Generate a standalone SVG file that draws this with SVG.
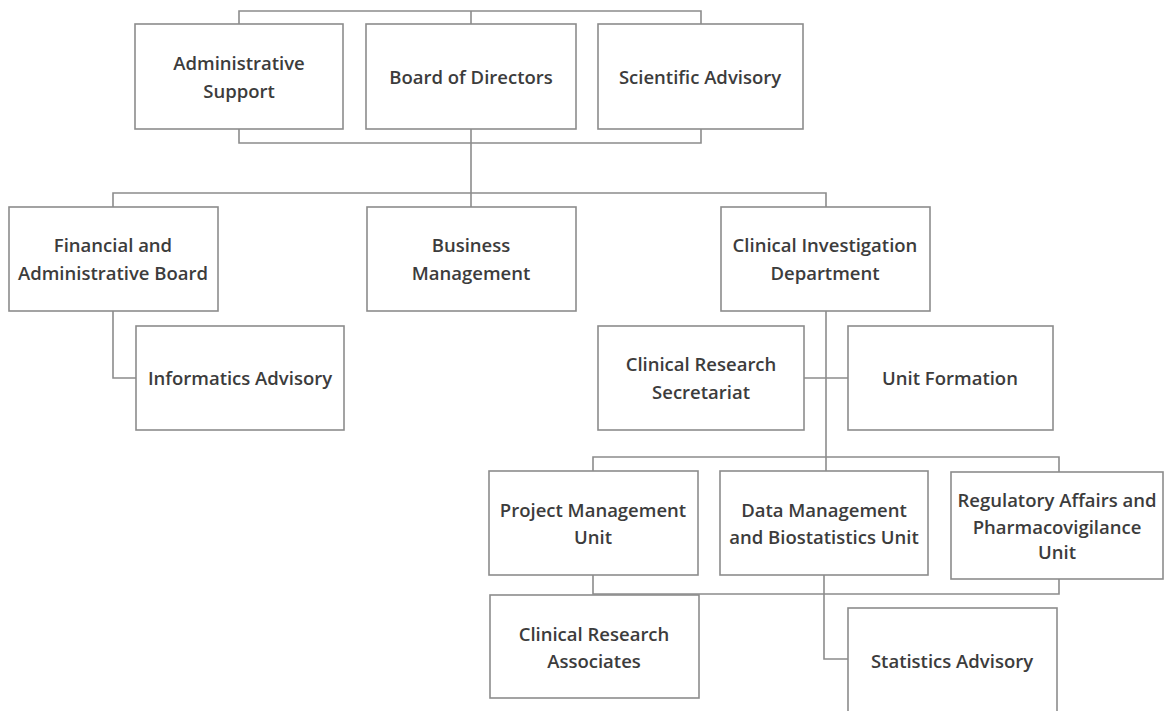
<svg xmlns="http://www.w3.org/2000/svg" width="1164" height="711" viewBox="0 0 1164 711">
<style>
.box{fill:#fff;stroke:#8c8c8c;stroke-width:1.6}
.ln{fill:none;stroke:#8c8c8c;stroke-width:1.6}
text{font-family:"Open Sans","Liberation Sans",sans-serif;font-weight:600;font-size:18.5px;fill:#3c3c3c;text-anchor:middle}
</style>
<rect width="1164" height="711" fill="#fff"/>
<g id="connectors">
<polyline class="ln" points="239,24 239,11 701,11 701,24"/>
<line class="ln" x1="471" y1="11" x2="471" y2="24"/>
<polyline class="ln" points="239,129 239,143 701,143 701,129"/>
<line class="ln" x1="471" y1="129" x2="471" y2="207"/>
<polyline class="ln" points="113,207 113,193 826,193 826,207"/>
<polyline class="ln" points="113,311 113,378 136,378"/>
<line class="ln" x1="826" y1="311" x2="826" y2="471"/>
<line class="ln" x1="804" y1="378" x2="848" y2="378"/>
<polyline class="ln" points="593,471 593,457 1059,457 1059,472"/>
<polyline class="ln" points="593,575 593,594 1059,594 1059,579"/>
<polyline class="ln" points="824,575 824,659 848,659"/>
</g>
<g id="n-admin"><rect class="box" x="135" y="24" width="208" height="105"/><text x="239" y="70">Administrative</text><text x="239" y="98">Support</text></g>
<g id="n-board"><rect class="box" x="366" y="24" width="210" height="105"/><text x="471" y="84">Board of Directors</text></g>
<g id="n-sci"><rect class="box" x="598" y="24" width="205" height="105"/><text x="700" y="84">Scientific Advisory</text></g>
<g id="n-fin"><rect class="box" x="9" y="207" width="209" height="104"/><text x="113" y="252">Financial and</text><text x="113" y="280">Administrative Board</text></g>
<g id="n-bus"><rect class="box" x="367" y="207" width="209" height="104"/><text x="471" y="252">Business</text><text x="471" y="280">Management</text></g>
<g id="n-cid"><rect class="box" x="721" y="207" width="209" height="104"/><text x="825" y="252">Clinical Investigation</text><text x="825" y="280">Department</text></g>
<g id="n-inf"><rect class="box" x="136" y="326" width="208" height="104"/><text x="240" y="385">Informatics Advisory</text></g>
<g id="n-crs"><rect class="box" x="598" y="326" width="206" height="104"/><text x="701" y="371">Clinical Research</text><text x="701" y="399">Secretariat</text></g>
<g id="n-uf"><rect class="box" x="848" y="326" width="205" height="104"/><text x="950" y="385">Unit Formation</text></g>
<g id="n-pmu"><rect class="box" x="489" y="471" width="209" height="104"/><text x="593" y="517">Project Management</text><text x="593" y="544">Unit</text></g>
<g id="n-dm"><rect class="box" x="720" y="471" width="208" height="104"/><text x="824" y="517">Data Management</text><text x="824" y="544">and Biostatistics Unit</text></g>
<g id="n-reg"><rect class="box" x="951" y="472" width="212" height="107"/><text x="1057" y="507">Regulatory Affairs and</text><text x="1057" y="534">Pharmacovigilance</text><text x="1057" y="559">Unit</text></g>
<g id="n-cra"><rect class="box" x="490" y="595" width="209" height="103"/><text x="594" y="641">Clinical Research</text><text x="594" y="668">Associates</text></g>
<g id="n-stat"><rect class="box" x="848" y="608" width="209" height="106"/><text x="952" y="668">Statistics Advisory</text></g>
</svg>
